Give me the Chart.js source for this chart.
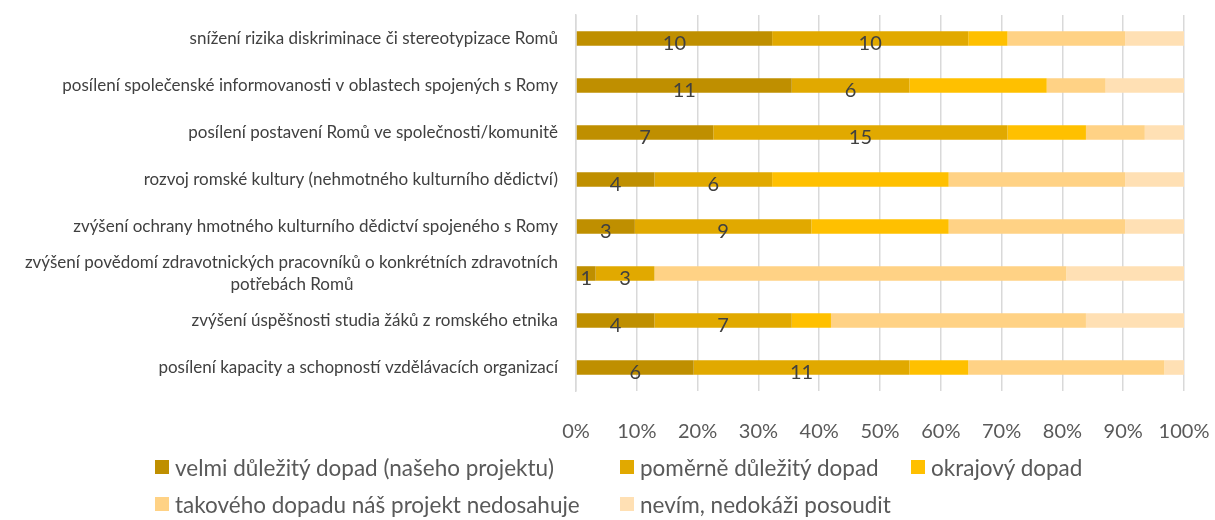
<!DOCTYPE html>
<html lang="cs">
<head>
<meta charset="utf-8">
<script src="https://cdn.jsdelivr.net/npm/chart.js@4.4.1/dist/chart.umd.min.js"></script>
<style>
  html, body { margin: 0; padding: 0; background: #fff; }
  #wrap { position: relative; width: 1215px; height: 520px; }
  #legend {
    position: absolute; left: 155px; top: 455px;
    display: grid; grid-template-columns: 465px 291px 260px; row-gap: 13px;
    font-family: Lato, "Open Sans", sans-serif; font-size: 22.5px; color: #595959;
  }
  #legend div { display: flex; align-items: center; white-space: nowrap; height: 24px; }
  #legend span.box { width: 14px; height: 14px; margin-right: 6px; flex: none; }
</style>
</head>
<body>
<div id="wrap">
  <canvas id="chart" width="1215" height="520"></canvas>
  <div id="legend"></div>
</div>
<script>
// Kategorie (odshora dolů)
const categories = [
    'snížení rizika diskriminace či stereotypizace Romů',
    'posílení společenské informovanosti v oblastech spojených s Romy',
    'posílení postavení Romů ve společnosti/komunitě',
    'rozvoj romské kultury (nehmotného kulturního dědictví)',
    'zvýšení ochrany hmotného kulturního dědictví spojeného s Romy',
    ['zvýšení povědomí zdravotnických pracovníků o konkrétních zdravotních', 'potřebách Romů'],
    'zvýšení úspěšnosti studia žáků z romského etnika',
    'posílení kapacity a schopností vzdělávacích organizací'
];

const seriesNames = [
    'velmi důležitý dopad (našeho projektu)',
    'poměrně důležitý dopad',
    'okrajový dopad',
    'takového dopadu náš projekt nedosahuje',
    'nevím, nedokáži posoudit'
];

// počty odpovědí
const velmi    = [10, 11, 7, 4, 3, 1, 4, 6];
const pomerne  = [10, 6, 15, 6, 9, 3, 7, 11];
const okrajovy = [2, 7, 4, 9, 7, 0, 2, 3];
const nedosah  = [6, 3, 3, 9, 9, 21, 13, 10];
const nevim    = [3, 4, 2, 3, 3, 6, 5, 1];

const xTicks = [0, 10, 20, 30, 40, 50, 60, 70, 80, 90, 100];

const colors = ['#BF8F00', '#E1A900', '#FFC000', '#FFD285', '#FFE0B4'];
const series = [velmi, pomerne, okrajovy, nedosah, nevim];

// součty pro 100% skládaný graf
const totals = categories.map((_, i) => series.reduce((s, arr) => s + arr[i], 0));

const labelFont = '17px Lato';

// víceřádkový popisek - kratší řádky doplnit mezerami, aby byly vystředěné
function centerLines(lbl) {
    if (!Array.isArray(lbl)) return lbl;
    const ctx = document.createElement('canvas').getContext('2d');
    ctx.font = labelFont;
    const maxW = Math.max(...lbl.map(l => ctx.measureText(l).width));
    const sp = ctx.measureText(' ').width;
    return lbl.map(l => {
        const w = ctx.measureText(l).width;
        const n = Math.round((maxW - w) / 2 / sp);
        return l + ' '.repeat(n);
    });
}

// popisky hodnot jen pro první dvě řady
const valueLabels = {
    id: 'valueLabels',
    afterDatasetsDraw(chart) {
        const ctx = chart.ctx;
        ctx.save();
        ctx.font = '20px Lato';
        ctx.fillStyle = '#404040';
        ctx.textAlign = 'center';
        ctx.textBaseline = 'middle';
        [0, 1].forEach(di => {
            const meta = chart.getDatasetMeta(di);
            meta.data.forEach((bar, i) => {
                const v = series[di][i];
                if (!v) return;
                const cx = (bar.x + bar.base) / 2;
                ctx.fillText(String(v), cx, bar.y + 5);
            });
        });
        ctx.restore();
    }
};

const config = {
    type: 'bar',
    data: {
        labels: categories.map(centerLines),
        datasets: series.map((arr, k) => ({
            label: seriesNames[k],
            data: arr.map((v, i) => v / totals[i] * 100),
            backgroundColor: colors[k],
            borderWidth: 0,
            categoryPercentage: 1,
            barPercentage: 0.31
        }))
    },
    options: {
        indexAxis: 'y',
        responsive: false,
        animation: false,
        layout: { padding: { top: 15, right: 31, bottom: 69, left: 0 } },
        scales: {
            x: {
                stacked: true,
                min: 0,
                max: 100,
                afterFit: s => { s.height = 60; s.paddingLeft = 0; s.paddingRight = 0; },
                afterBuildTicks: s => { s.ticks = xTicks.map(v => ({ value: v })); },
                grid: { color: '#D9D9D9', lineWidth: 1.5, drawTicks: false },
                border: { display: false },
                ticks: {
                    font: { family: 'Lato', size: 20 },
                    color: '#595959',
                    padding: 29,
                    maxRotation: 0,
                    callback: v => v + '%'
                }
            },
            y: {
                stacked: true,
                afterFit: s => { s.width = 576; s.paddingTop = 0; s.paddingBottom = 0; },
                grid: { display: false, drawTicks: false },
                border: { display: true, color: '#D9D9D9', width: 1.5 },
                ticks: {
                    font: { family: 'Lato', size: 17, lineHeight: 1.25 },
                    color: '#404040',
                    padding: 18,
                    autoSkip: false
                }
            }
        },
        plugins: {
            legend: { display: false },
            tooltip: { enabled: false }
        }
    },
    plugins: [valueLabels]
};

new Chart(document.getElementById('chart'), config);

// legenda
const legend = document.getElementById('legend');
seriesNames.forEach((name, k) => {
    const d = document.createElement('div');
    d.innerHTML = '<span class="box" style="background:' + colors[k] + '"></span>' + name;
    legend.appendChild(d);
});
</script>
</body>
</html>
